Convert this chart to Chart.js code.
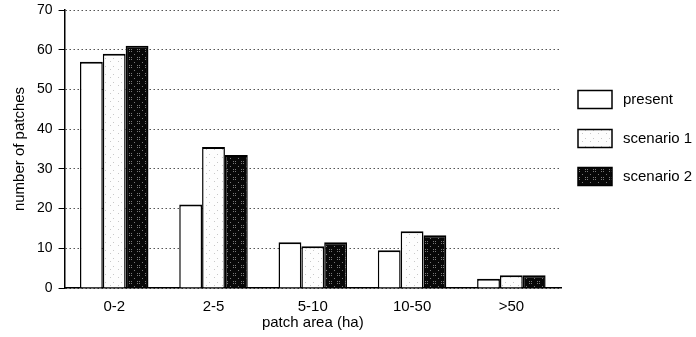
<!DOCTYPE html>
<html>
<head>
<meta charset="utf-8">
<script src="https://cdn.jsdelivr.net/npm/chart.js@4.4.1/dist/chart.umd.min.js"></script>
<style>
  html, body { margin: 0; padding: 0; background: #fff; }
  #wrap { width: 696px; height: 337px; }
</style>
</head>
<body>
<div id="wrap"><canvas id="c" width="696" height="337"></canvas></div>
<script>
// Patch-size classes and patch counts per scenario
const categories = ['0-2', '2-5', '5-10', '10-50', '>50'];
const seriesNames = ['present', 'scenario 1', 'scenario 2'];
const presentCounts   = [57, 21, 11.5, 9.5, 2.3];
const scenario1Counts = [59, 35.5, 10.5, 14.3, 3.2];
const scenario2Counts = [61, 33.5, 11.5, 13.3, 3.2];
const yTicks = [0, 10, 20, 30, 40, 50, 60, 70];

const FONT = '"Liberation Sans", Arial, Helvetica, sans-serif';

// Stippled fills in the style of a halftone print
function stipple(bg, dot, cells) {
  const t = document.createElement('canvas');
  t.width = 8; t.height = 8;
  const g = t.getContext('2d');
  g.fillStyle = bg; g.fillRect(0, 0, 8, 8);
  g.fillStyle = dot;
  cells.forEach(([x, y]) => g.fillRect(x, y, 1, 1));
  return g.createPattern(t, 'repeat');
}
const ctx = document.getElementById('c').getContext('2d');
const fillPresent = '#ffffff';
const fillScen1 = stipple('#fdfdfd', '#c8c8c8', [[1, 2], [6, 5]]);
const fillScen2 = stipple('#080808', '#7a7a7a', [[1, 1], [3, 1], [1, 3], [3, 3], [6, 6]]);

// Legend drawn at the right of the plot
const sideLegend = {
  id: 'sideLegend',
  afterDraw(chart) {
    const c = chart.ctx;
    const x0 = 578, bw = 34, bh = 18, tx = 623;
    const rows = [99.5, 138.5, 176.5];
    c.save();
    c.font = '15px ' + FONT;
    c.textBaseline = 'middle';
    chart.data.datasets.forEach((ds, i) => {
      const cy = rows[i];
      c.fillStyle = ds.backgroundColor;
      c.fillRect(x0, cy - bh / 2, bw, bh);
      c.lineWidth = 1.5;
      c.strokeStyle = '#000';
      c.strokeRect(x0, cy - bh / 2, bw, bh);
      c.fillStyle = '#000';
      c.fillText(ds.label, tx, cy);
    });
    c.restore();
  }
};

const makeSet = (label, data, fill) => ({
  label, data,
  backgroundColor: fill,
  borderColor: '#000',
  borderWidth: { top: 2, left: 1.5, right: 1.5, bottom: 0 },
  borderSkipped: 'bottom',
  barPercentage: 1.0,
  categoryPercentage: 0.69
});

new Chart(ctx, {
  type: 'bar',
  data: {
    labels: categories,
    datasets: [
      makeSet(seriesNames[0], presentCounts, fillPresent),
      makeSet(seriesNames[1], scenario1Counts, fillScen1),
      makeSet(seriesNames[2], scenario2Counts, fillScen2)
    ]
  },
  options: {
    responsive: false,
    animation: false,
    layout: { padding: { top: 1, right: 135, left: 11, bottom: 5 } },
    plugins: {
      legend: { display: false },
      tooltip: { enabled: false }
    },
    scales: {
      x: {
        grid: { display: true, drawOnChartArea: false, drawTicks: false },
        border: { display: true, color: '#000', width: 1.5 },
        ticks: { color: '#000', font: { family: FONT, size: 15 }, padding: 10 },
        title: {
          display: true, text: 'patch area (ha)', color: '#000',
          font: { family: FONT, size: 15 }, padding: { top: -12, bottom: 0 }
        }
      },
      y: {
        min: 0, max: 70,
        afterBuildTicks(scale) { scale.ticks = yTicks.map(v => ({ value: v })); },
        // keep only half a label of head room above the top tick
        afterFit(scale) { scale.paddingTop = 10; },
        grid: {
          color: '#555', lineWidth: 1,
          tickColor: '#000', tickLength: 6, tickWidth: 1, tickBorderDash: []
        },
        border: { display: true, color: '#000', width: 1.5, dash: [1.5, 2.5] },
        ticks: { color: '#000', font: { family: FONT, size: 14 }, padding: 6 },
        title: {
          display: true, text: 'number of patches', color: '#000',
          font: { family: FONT, size: 15 }, padding: { top: 0, bottom: 2 }
        }
      }
    }
  },
  plugins: [sideLegend]
});
</script>
</body>
</html>
